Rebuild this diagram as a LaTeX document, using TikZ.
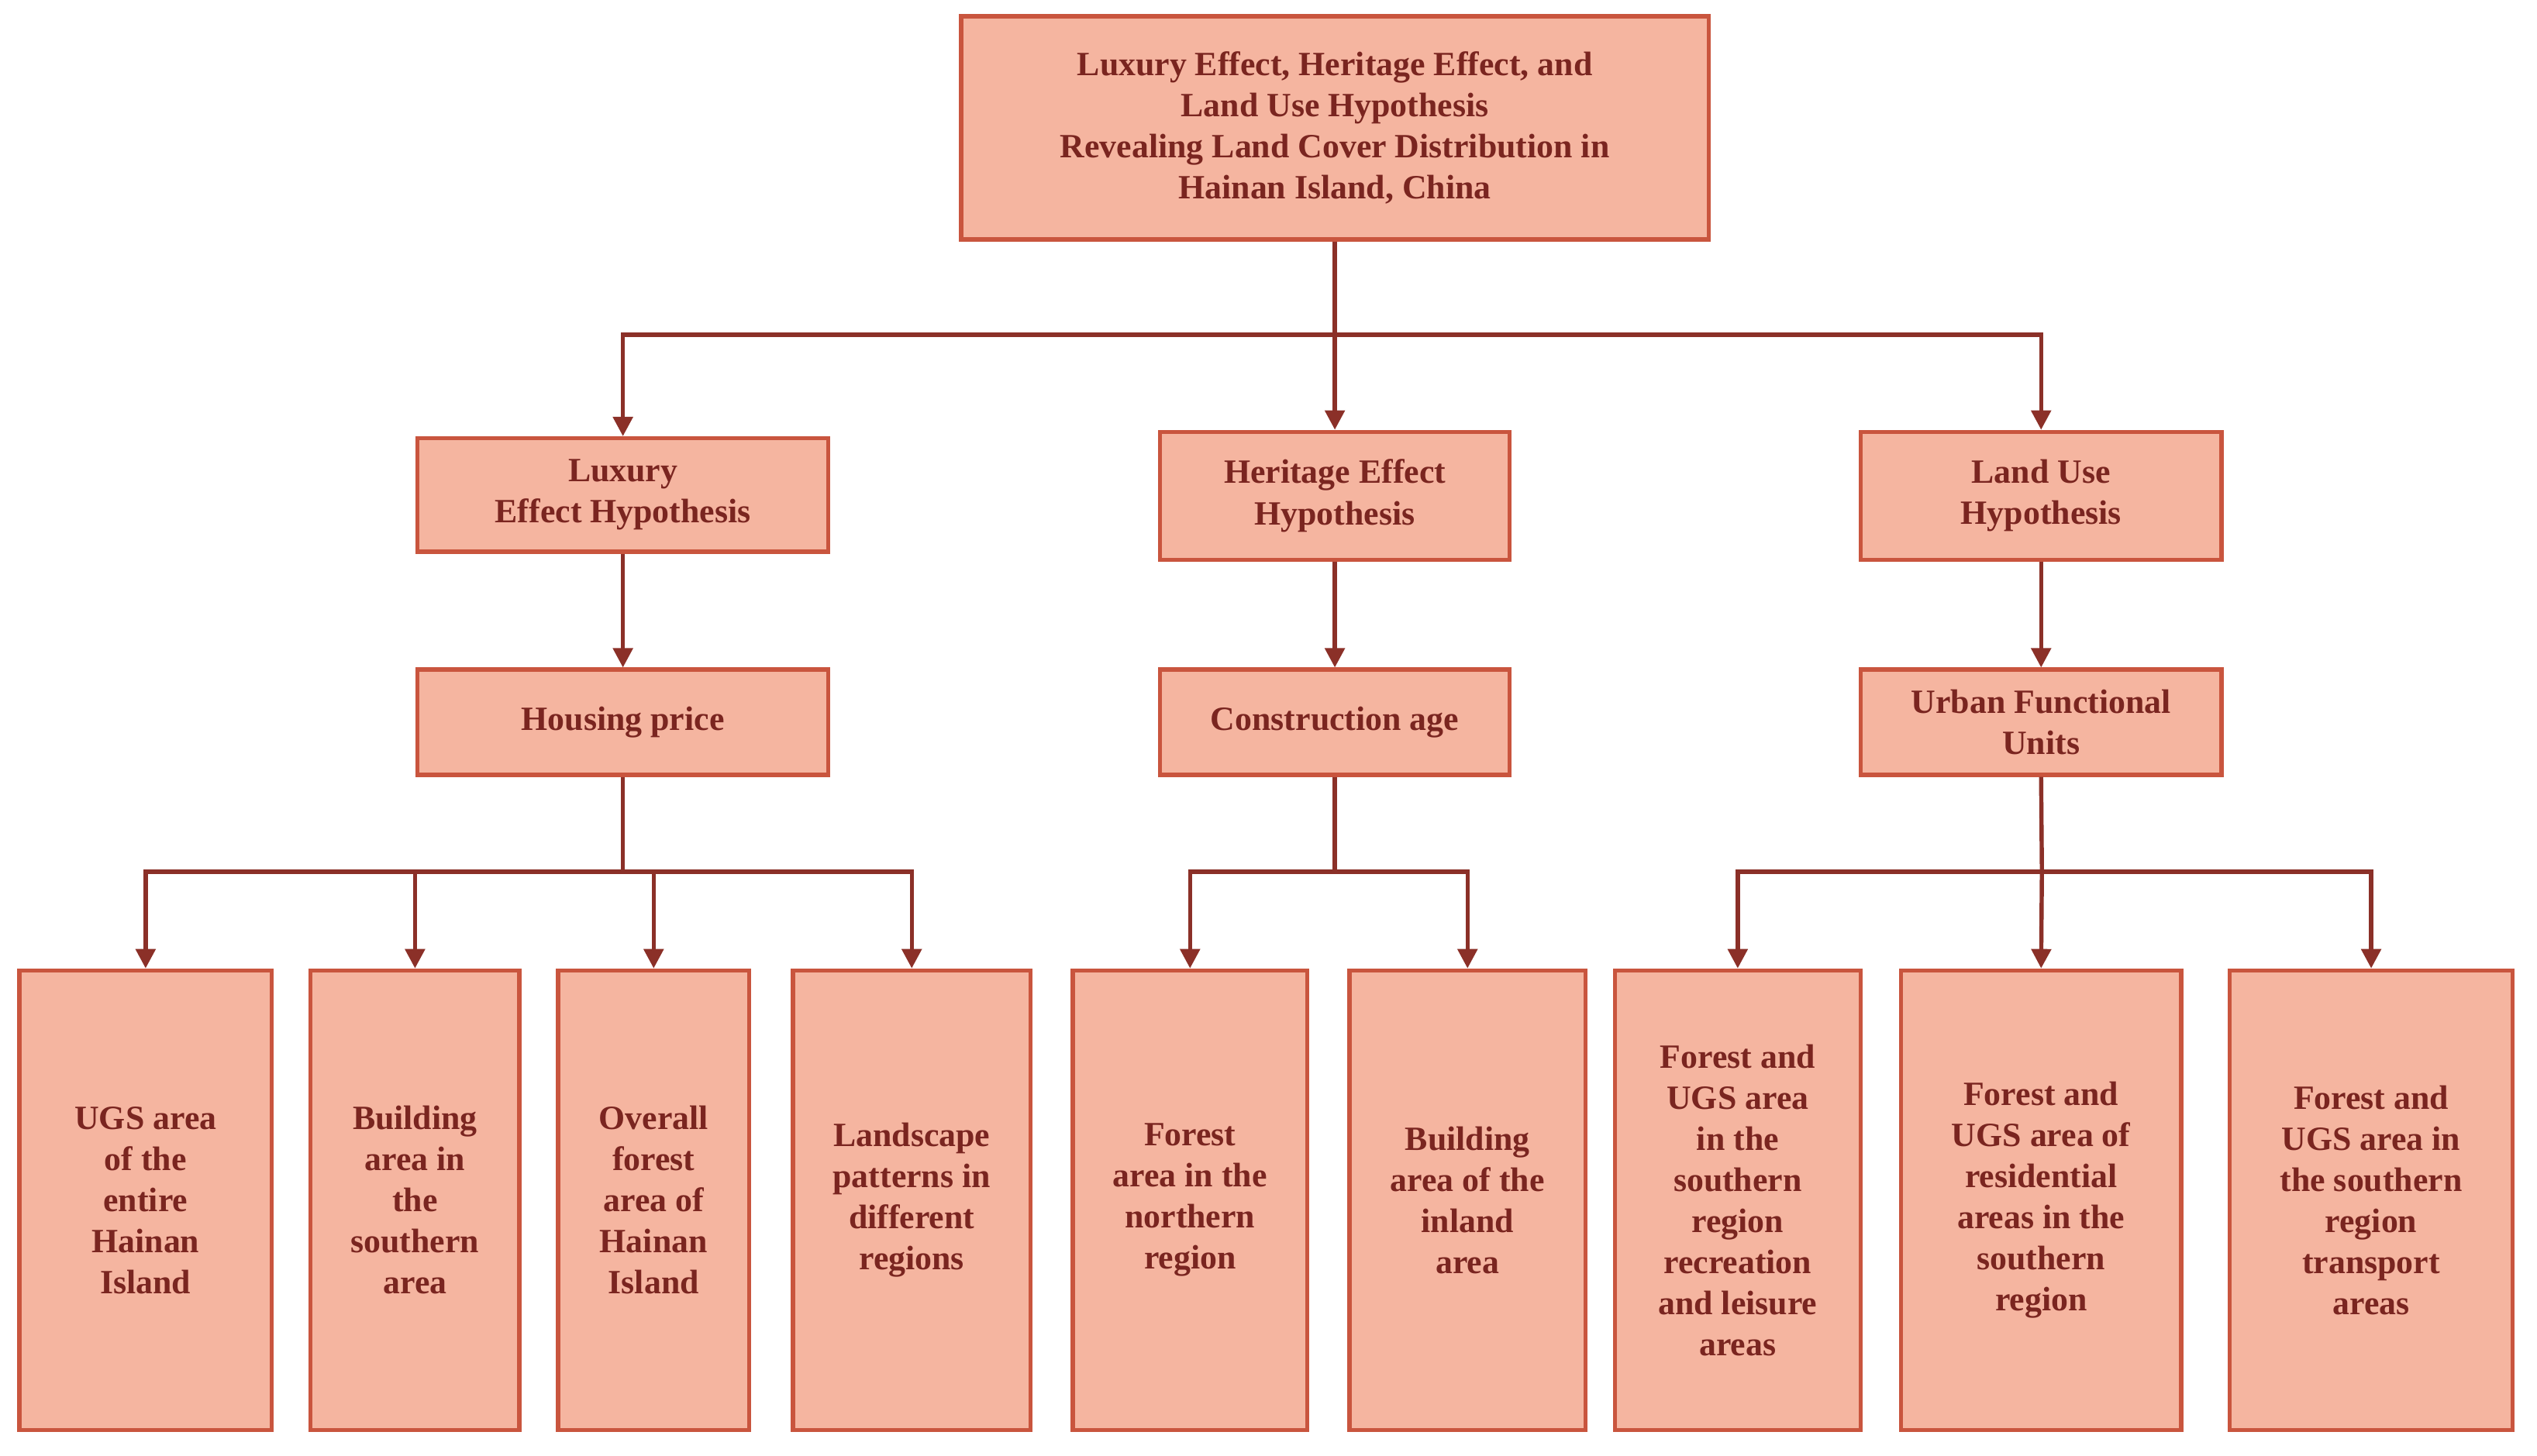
\documentclass[tikz,border=0pt]{standalone}
\usepackage{fontspec}
\setmainfont{Liberation Serif}
\usetikzlibrary{arrows.meta}
\definecolor{bfill}{HTML}{F5B5A0}
\definecolor{bdraw}{HTML}{C9553E}
\definecolor{btext}{HTML}{7A2520}
\definecolor{lcol}{HTML}{8B3028}
\begin{document}
\begin{tikzpicture}[x=0.5pt,y=-0.5pt,
 box/.style={draw=bdraw,line width=1.3pt,fill=bfill,text=btext,font=\bfseries\fontsize{10.5}{12.7}\selectfont,align=center,inner sep=0pt},
 con/.style={draw=lcol,line width=1.3pt},
 arr/.style={con,-{Triangle[length=6pt,width=6pt]}}]
\useasboundingbox (0,0) rectangle (1568,900);
\newcommand{\bx}[6]{\node[box,minimum width={(#4-#2)*0.5pt},minimum height={(#5-#3)*0.5pt}] (#1) at ({(#2+#4)/2},{(#3+#5)/2}) {#6};}
\bx{top}{594}{10}{1056}{148}{Luxury Effect, Heritage Effect, and\\Land Use Hypothesis\\Revealing Land Cover Distribution in\\Hainan Island, China}
\bx{lux}{258}{271}{512}{341}{Luxury\\Effect Hypothesis}
\bx{her}{717}{267}{933}{346}{Heritage Effect\\Hypothesis}
\bx{lan}{1150}{267}{1373}{346}{Land Use\\Hypothesis}
\bx{hou}{258}{414}{512}{479}{Housing price}
\bx{con}{717}{414}{933}{479}{Construction age}
\bx{urb}{1150}{414}{1373}{479}{Urban Functional\\Units}
\bx{b1}{12}{600}{168}{884}{UGS area\\of the\\entire\\Hainan\\Island}
\bx{b2}{192}{600}{321}{884}{Building\\area in\\the\\southern\\area}
\bx{b3}{345}{600}{463}{884}{Overall\\forest\\area of\\Hainan\\Island}
\bx{b4}{490}{600}{637}{884}{Landscape\\patterns in\\different\\regions}
\bx{b5}{663}{600}{808}{884}{Forest\\area in the\\northern\\region}
\bx{b6}{834}{600}{980}{884}{Building\\area of the\\inland\\area}
\bx{b7}{998}{600}{1150}{884}{Forest and\\UGS area\\in the\\southern\\region\\recreation\\and leisure\\areas}
\bx{b8}{1175}{600}{1348}{884}{Forest and\\UGS area of\\residential\\areas in the\\southern\\region}
\bx{b9}{1378}{600}{1553}{884}{Forest and\\UGS area in\\the southern\\region\\transport\\areas}
\coordinate (j0) at (825,207);
\draw[con] (top.south) -- (j0);
\draw[arr] (j0) -- (her.north);
\draw[arr] (j0) -| (lux.north);
\draw[arr] (j0) -| (lan.north);
\draw[arr] (lux) -- (hou);
\draw[arr] (her) -- (con);
\draw[arr] (lan) -- (urb);
\coordinate (j1) at (385,539);
\draw[con] (hou.south) -- (j1);
\foreach \b in {b1,b2}{\draw[arr] (j1) -| (\b.north);}
\foreach \b in {b3,b4}{\draw[arr] (j1) -| (\b.north);}
\coordinate (j2) at (825,539);
\draw[con] (con.south) -- (j2);
\foreach \b in {b5,b6}{\draw[arr] (j2) -| (\b.north);}
\coordinate (j3) at (1262,539);
\draw[con] (urb.south) -- (j3);
\draw[arr] (j3) -- (b8.north);
\foreach \b in {b7,b9}{\draw[arr] (j3) -| (\b.north);}
\end{tikzpicture}
\end{document}
